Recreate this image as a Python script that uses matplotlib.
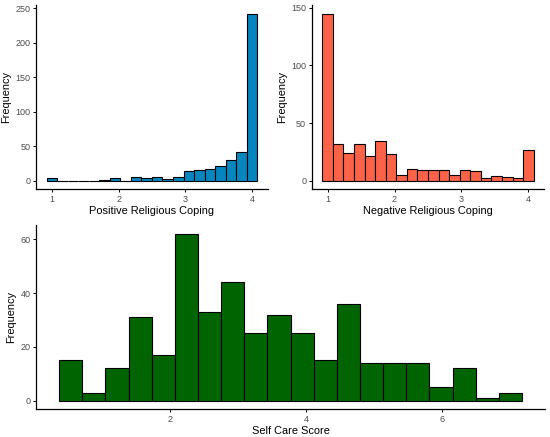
import numpy as np
import matplotlib
matplotlib.use("Agg")
import matplotlib.pyplot as plt

plt.rcParams['font.family'] = ['Liberation Sans', 'DejaVu Sans']

# counts per bin
pos_counts = [4, 0, 0, 0, 0, 1, 4, 0, 5, 4, 5, 3, 6, 14, 16, 17, 21, 30, 42, 242]
neg_counts = [145, 32, 24, 32, 21, 34, 23, 5, 10, 9, 9, 9, 5, 9, 8, 2, 4, 3, 2, 27]
self_counts = [15, 3, 12, 31, 17, 62, 33, 44, 25, 32, 25, 15, 36, 14, 14, 14, 5, 12, 1, 3]

# bin centres (first and last)
pos_range = (1.0, 4.0)
neg_range = (1.0, 4.0)
self_range = (0.54, 7.0)

pos_ticks = [1, 2, 3, 4]
neg_ticks = [1, 2, 3, 4]
self_ticks = [2, 4, 6]
pos_yticks = [0, 50, 100, 150, 200, 250]
neg_yticks = [0, 50, 100, 150]
self_yticks = [0, 20, 40, 60]

fig = plt.figure(figsize=(5.5, 4.37), dpi=100)
ax1 = fig.add_axes([0.0655, 0.5675, 0.4215, 0.4205])
ax2 = fig.add_axes([0.5667, 0.5675, 0.4230, 0.4205])
ax3 = fig.add_axes([0.0655, 0.0640, 0.9255, 0.4200])


def draw_hist(ax, counts, rng, color, xticks, yticks, xlabel):
    n = len(counts)
    centers = np.linspace(rng[0], rng[1], n)
    w = (rng[1] - rng[0]) / (n - 1)
    ax.bar(centers, counts, width=w, color=color, edgecolor='black', linewidth=0.8)
    lo, hi = centers[0] - w / 2, centers[-1] + w / 2
    pad = (hi - lo) * 0.05
    ax.set_xlim(lo - pad, hi + pad)
    top = max(counts)
    ax.set_ylim(-top * 0.05, top * 1.05)
    ax.set_xticks(xticks)
    ax.set_yticks(yticks)
    ax.set_xlabel(xlabel, fontsize=7.9, labelpad=2)
    ax.set_ylabel('Frequency', fontsize=7.9, labelpad=3)
    for s in ['top', 'right']:
        ax.spines[s].set_visible(False)
    for s in ['left', 'bottom']:
        ax.spines[s].set_linewidth(0.9)
    ax.tick_params(labelsize=6.5, length=2.5, width=0.7, colors='black',
                   labelcolor='#4d4d4d', pad=1.5)


draw_hist(ax1, pos_counts, pos_range, '#0586bf', pos_ticks, pos_yticks, 'Positive Religious Coping')
draw_hist(ax2, neg_counts, neg_range, '#ff6347', neg_ticks, neg_yticks, 'Negative Religious Coping')
draw_hist(ax3, self_counts, self_range, '#006400', self_ticks, self_yticks, 'Self Care Score')

fig.savefig('out.png', dpi=100)
